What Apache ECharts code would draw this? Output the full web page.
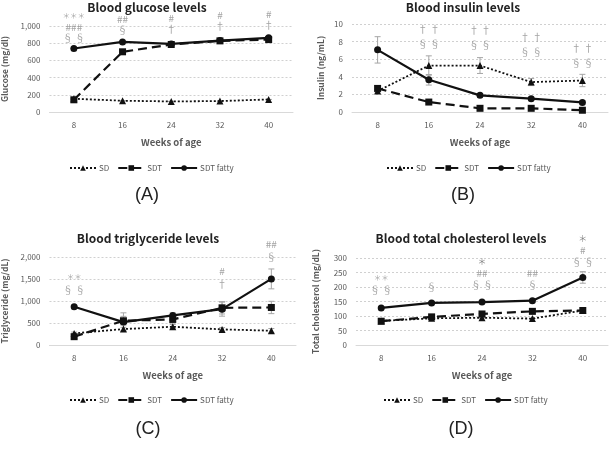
<!DOCTYPE html>
<html>
<head>
<meta charset="utf-8">
<script src="https://cdn.jsdelivr.net/npm/echarts@6/dist/echarts.min.js"></script>
<style>
  html, body { margin: 0; background: #fff; }
  #chart { width: 615px; height: 471px; }
</style>
</head>
<body>
<div id="chart"></div>
<script>
var weeks = ['8', '16', '24', '32', '40'];
var groupNames = ['SD', 'SDT', 'SDT fatty'];

// (A) blood glucose, mg/dl
var glucoseSD = [154, 131, 123, 127, 146];
var glucoseSDT = [142, 700, 785, 827, 842];
var glucoseFatty = [738, 815, 792, 831, 862];
var glucoseMarks = ['{a|＊＊＊}\n###\n§ §', '##\n§', '#\n†', '#\n†', '#\n†'];
var glucoseMarkLevel = [989, 1011, 1022, 1060, 1072];

// (B) blood insulin, ng/mL
var insulinSD = [2.38, 5.28, 5.28, 3.4, 3.58];
var insulinSDErr = [0.2, 1.1, 0.9, 0.4, 0.7];
var insulinSDT = [2.68, 1.13, 0.42, 0.42, 0.2];
var insulinSDTErr = [0.3, 0.2, 0.1, 0.1, 0.1];
var insulinFatty = [7.06, 3.66, 1.89, 1.51, 1.09];
var insulinFattyErr = [1.5, 0.6, 0.2, 0.2, 0.2];
var insulinMarks = ['', '† †\n§ §', '† †\n§ §', '† †\n§ §', '† †\n§ §'];
var insulinMarkLevel = [0, 8.59, 8.48, 7.69, 6.41];

// (C) blood triglyceride, mg/dL
var tgSD = [264, 362, 415, 355, 325];
var tgSDErr = [30, 40, 50, 40, 50];
var tgSDT = [189, 551, 581, 845, 853];
var tgSDTErr = [40, 100, 80, 140, 140];
var tgFatty = [868, 521, 672, 815, 1502];
var tgFattyErr = [40, 210, 60, 160, 226];
var tgMarks = ['{a|＊＊}\n§ §', '', '', '#\n†', '##\n§'];
var tgMarkLevel = [1386, 0, 0, 1522, 2140];

// (D) blood total cholesterol, mg/dL
var tcSD = [83, 92, 94, 91, 119];
var tcSDT = [82, 97, 107, 116, 119];
var tcFatty = [128, 145, 148, 153, 233];
var tcFattyErr = [4, 5, 5, 5, 20];
var tcMarks = ['{a|＊＊}\n§ §', '§', '{b|＊}\n##\n§ §', '##\n§', '{b|＊}\n#\n§ §'];
var tcMarkLevel = [210, 201, 247, 228, 326];

var font = '"Noto Sans CJK JP", "Noto Sans", sans-serif';
var zeros = [0, 0, 0, 0, 0];

var panels = [
  { title: 'Blood glucose levels', tag: '(A)', yName: 'Glucose (mg/dl)',
    grid: { left: 47, top: 26, width: 246, height: 86 }, center: 147,
    max: 1000, interval: 200, nameGap: 40, lh: 11,
    sd: glucoseSD, sdt: glucoseSDT, fatty: glucoseFatty,
    sdErr: zeros, sdtErr: zeros, fattyErr: zeros,
    marks: glucoseMarks, markLevel: glucoseMarkLevel, legendLeft: 64, legendTop: 159 },
  { title: 'Blood insulin levels', tag: '(B)', yName: 'Insulin (ng/mL)',
    grid: { left: 352, top: 24, width: 256, height: 88 }, center: 463,
    max: 10, interval: 2, nameGap: 27, lh: 15,
    sd: insulinSD, sdt: insulinSDT, fatty: insulinFatty,
    sdErr: insulinSDErr, sdtErr: insulinSDTErr, fattyErr: insulinFattyErr,
    marks: insulinMarks, markLevel: insulinMarkLevel, legendLeft: 381, legendTop: 159 },
  { title: 'Blood triglyceride levels', tag: '(C)', yName: 'Triglyceride (mg/dL)',
    grid: { left: 47, top: 257, width: 249, height: 88 }, center: 148,
    max: 2000, interval: 500, nameGap: 40, lh: 13,
    sd: tgSD, sdt: tgSDT, fatty: tgFatty,
    sdErr: tgSDErr, sdtErr: tgSDTErr, fattyErr: tgFattyErr,
    marks: tgMarks, markLevel: tgMarkLevel, legendLeft: 64, legendTop: 391 },
  { title: 'Blood total cholesterol levels', tag: '(D)', yName: 'Total cholesterol (mg/dL)',
    grid: { left: 356, top: 258, width: 252, height: 87 }, center: 461,
    max: 300, interval: 50, nameGap: 36, lh: 12,
    sd: tcSD, sdt: tcSDT, fatty: tcFatty,
    sdErr: zeros, sdtErr: zeros, fattyErr: tcFattyErr,
    marks: tcMarks, markLevel: tcMarkLevel, legendLeft: 378, legendTop: 391 }
];

function errorSeries(idx, vals, errs) {
  return {
    type: 'custom', xAxisIndex: idx, yAxisIndex: idx, z: 1, silent: true,
    data: vals.map(function (v, i) { return [i, v - errs[i], v + errs[i]]; }),
    encode: { x: 0, y: [1, 2] },
    renderItem: function (params, api) {
      var lo = api.coord([api.value(0), api.value(1)]);
      var hi = api.coord([api.value(0), api.value(2)]);
      var w = 3;
      var st = { stroke: '#a6a6a6', lineWidth: 1 };
      return { type: 'group', children: [
        { type: 'line', shape: { x1: hi[0], y1: hi[1], x2: lo[0], y2: lo[1] }, style: st },
        { type: 'line', shape: { x1: hi[0] - w, y1: hi[1], x2: hi[0] + w, y2: hi[1] }, style: st },
        { type: 'line', shape: { x1: lo[0] - w, y1: lo[1], x2: lo[0] + w, y2: lo[1] }, style: st }
      ] };
    }
  };
}

var grids = [], xAxes = [], yAxes = [], series = [], legends = [], graphics = [];

panels.forEach(function (p, idx) {
  grids.push(p.grid);
  xAxes.push({
    type: 'category', gridIndex: idx, data: weeks,
    name: 'Weeks of age', nameLocation: 'middle', nameGap: 26,
    nameTextStyle: { fontFamily: font, fontSize: 9.5, color: '#595959', fontWeight: 'bold' },
    axisLine: { lineStyle: { color: '#d9d9d9' } },
    axisTick: { show: false },
    axisLabel: { fontFamily: font, fontSize: 8, color: '#595959', margin: 9 }
  });
  yAxes.push({
    type: 'value', gridIndex: idx, min: 0, max: p.max, interval: p.interval,
    name: p.yName, nameLocation: 'middle', nameGap: p.nameGap,
    nameTextStyle: { fontFamily: font, fontSize: 8.5, color: '#595959', fontWeight: 'bold' },
    axisLine: { show: false }, axisTick: { show: false },
    splitLine: { lineStyle: { color: '#d0d0d0', type: [2, 2] } },
    axisLabel: { fontFamily: font, fontSize: 8, color: '#595959', margin: 9,
      formatter: function (v) { return v.toLocaleString('en-US'); } }
  });

  series.push(errorSeries(idx, p.sd, p.sdErr));
  series.push(errorSeries(idx, p.sdt, p.sdtErr));
  series.push(errorSeries(idx, p.fatty, p.fattyErr));

  series.push({
    name: 'SD', type: 'line', xAxisIndex: idx, yAxisIndex: idx, data: p.sd,
    symbol: 'triangle', symbolSize: 7, z: 3,
    itemStyle: { color: '#111' },
    lineStyle: { color: '#111', width: 1.8, type: [2, 2] }
  });
  series.push({
    name: 'SDT', type: 'line', xAxisIndex: idx, yAxisIndex: idx, data: p.sdt,
    symbol: 'rect', symbolSize: 7, z: 3,
    itemStyle: { color: '#111' },
    lineStyle: { color: '#111', width: 2.2, type: [9, 5] }
  });
  series.push({
    name: 'SDT fatty', type: 'line', xAxisIndex: idx, yAxisIndex: idx, data: p.fatty,
    symbol: 'circle', symbolSize: 7, z: 4,
    itemStyle: { color: '#111' },
    lineStyle: { color: '#111', width: 2.2 }
  });

  var markData = [];
  p.marks.forEach(function (t, i) {
    if (t) markData.push({ value: [i, p.markLevel[i]], label: { formatter: t } });
  });
  series.push({
    type: 'scatter', xAxisIndex: idx, yAxisIndex: idx, clip: false, silent: true,
    symbolSize: 1, itemStyle: { color: 'transparent' }, z: 5,
    data: markData,
    label: { show: true, position: 'inside', color: '#8c8c8c', fontFamily: font,
      fontSize: 10, lineHeight: p.lh, align: 'center', verticalAlign: 'middle',
      rich: {
        a: { fontFamily: font, fontSize: 7.5, lineHeight: p.lh, color: '#8c8c8c' },
        b: { fontFamily: font, fontSize: 9, lineHeight: p.lh, color: '#666' }
      } }
  });

  legends.push({
    data: groupNames, left: p.legendLeft, top: p.legendTop,
    itemWidth: 26, itemHeight: 7, itemGap: 8,
    textStyle: { fontFamily: font, fontSize: 8, color: '#595959', padding: [0, 0, 0, -2] }
  });

  var titleY = idx < 2 ? 7 : 238;
  var tagY = idx < 2 ? 195 : 429;
  graphics.push({
    type: 'text', x: p.center, y: titleY,
    style: { text: p.title, fill: '#222', font: 'bold 12px ' + font,
      textAlign: 'center', textVerticalAlign: 'middle', align: 'center', verticalAlign: 'middle' }
  });
  graphics.push({
    type: 'text', x: p.center, y: tagY,
    style: { text: p.tag, fill: '#222', font: '18px "Liberation Sans", Arial, sans-serif',
      textAlign: 'center', textVerticalAlign: 'middle', align: 'center', verticalAlign: 'middle' }
  });
});

var myChart = echarts.init(document.getElementById('chart'));
myChart.setOption({
  backgroundColor: '#fff',
  animation: false,
  grid: grids,
  xAxis: xAxes,
  yAxis: yAxes,
  legend: legends,
  series: series,
  graphic: graphics
});

window.onresize = function () {
  myChart.resize();
};
</script>
</body>
</html>
